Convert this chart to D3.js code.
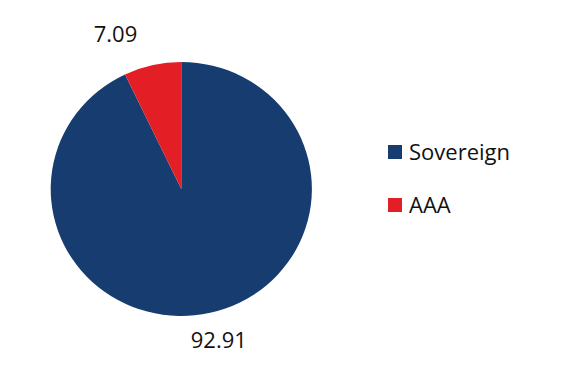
<!DOCTYPE html>
<html><head><meta charset="utf-8">
<script src="https://cdn.jsdelivr.net/npm/d3@7"></script>
<style>body{margin:0;background:#fff}svg{display:block}text{font-family:"Open Sans","Noto Sans",sans-serif;fill:#111}</style>
</head><body>
<svg id="c" width="566" height="377"></svg>
<script>
const categories = ["Sovereign", "AAA"];
const values = [92.91, 7.09];
const labels = ["92.91", "7.09"];
const colors = ["#173C6F", "#E31E25"];

const svg = d3.select("#c");
const cx = 181.3, cy = 189, rx = 130.6, ry = 127;
const pie = d3.pie().sort(null).value(d => d);
const arcs = pie(values);
const arc = d3.arc().innerRadius(0).outerRadius(rx);
const g = svg.append("g").attr("transform", `translate(${cx},${cy})`);
g.append("g").attr("transform", `scale(1,${ry / rx})`)
  .selectAll("path").data(arcs).enter().append("path")
  .attr("d", arc).attr("fill", (d, i) => colors[i]);

// label placement (angle nudge + radius) in layout code
const labelAdj = [{da: -0.02, R: 156}, {da: -0.18, R: 168}];
g.selectAll("text.lbl").data(arcs).enter().append("text").attr("class", "lbl")
  .attr("text-anchor", "middle").attr("dy", "0.36em")
  .style("font-size", "22px")
  .attr("x", (d, i) => Math.sin((d.startAngle + d.endAngle) / 2 + labelAdj[i].da) * labelAdj[i].R)
  .attr("y", (d, i) => -Math.cos((d.startAngle + d.endAngle) / 2 + labelAdj[i].da) * labelAdj[i].R)
  .text((d, i) => labels[i]);

const leg = svg.append("g").attr("transform", "translate(388,145)");
const li = leg.selectAll("g").data(categories).enter().append("g")
  .attr("transform", (d, i) => `translate(0,${i * 53})`);
li.append("rect").attr("width", 14).attr("height", 14).attr("fill", (d, i) => colors[i]);
li.append("text").attr("x", 21).attr("y", 15).style("font-size", "22px").text(d => d);
</script>
</body></html>
